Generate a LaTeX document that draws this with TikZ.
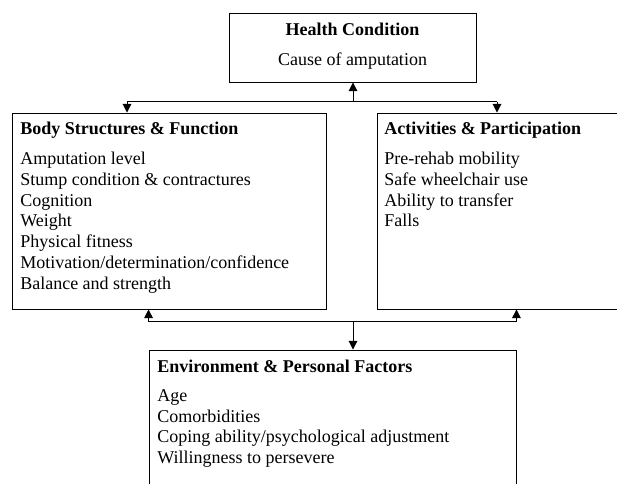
\documentclass[tikz,border=0pt]{standalone}
\usepackage{fontspec}
\setmainfont{Liberation Serif}
\usetikzlibrary{arrows.meta}
\usetikzlibrary{scopes}

\begin{document}
\begin{tikzpicture}[x=0.75pt,y=-0.75pt,font=\fontsize{13.5}{16}\selectfont]
\useasboundingbox (0,0) rectangle (617,484);
\clip (0,0) rectangle (617,484);

\begin{scope}[every node/.style={draw,line width=0.7pt,inner sep=0pt}]
    \node (health) [minimum width=185.25pt,minimum height=51.4pt] at (352.5,47.75) {};
    \node (body) [minimum width=235.5pt,minimum height=147pt] at (169,211) {};
    \node (activ) [minimum width=204.75pt,minimum height=147pt] at (513.5,211) {};
    \node (env) [minimum width=275.25pt,minimum height=127.5pt] at (332.5,435) {};
\end{scope}

\begin{scope}[every node/.style={inner sep=0pt,anchor=base west}]
    \node (hc) [anchor=base] at (352.5,36) {\textbf{Health Condition}};
    \node (hc1) [anchor=base] at (352.5,66) {Cause of amputation};

    \node (bs) at (20,135) {\textbf{Body Structures \& Function}};
    \node (bs1) at (20,164.6) {Amputation level};
    \node (bs2) at (20,185.4) {Stump condition \& contractures};
    \node (bs3) at (20,206.2) {Cognition};
    \node (bs4) at (20,227) {Weight};
    \node (bs5) at (20,247.8) {Physical fitness};
    \node (bs6) at (20,268.6) {Motivation/determination/confidence};
    \node (bs7) at (20,289.4) {Balance and strength};

    \node (ap) at (384,135) {\textbf{Activities \& Participation}};
    \node (ap1) at (384,164.6) {Pre-rehab mobility};
    \node (ap2) at (384,185.4) {Safe wheelchair use};
    \node (ap3) at (384,206.2) {Ability to transfer};
    \node (ap4) at (384,227) {Falls};

    \node (ep) at (157,372) {\textbf{Environment \& Personal Factors}};
    \node (ep1) at (157,401.2) {Age};
    \node (ep2) at (157,422) {Comorbidities};
    \node (ep3) at (157,442.8) {Coping ability/psychological adjustment};
    \node (ep4) at (157,463.6) {Willingness to persevere};
\end{scope}

\begin{scope}[>={Triangle[length=6.5pt,width=6.5pt]},line width=0.75pt]
    % top junction
    \coordinate (up) at (353,102);
    \coordinate (ld) at (127,102);
    \coordinate (rd) at (497,102);
    \draw (ld) -- (rd);
    \draw [->] (up) -- (up |- health.south);
    \draw [->] (ld) -- (ld |- body.north);
    \draw [->] (rd) -- (rd |- activ.north);
    % bottom junction
    \coordinate (dn) at (353,322);
    \coordinate (lu) at (env.west |- dn);
    \coordinate (ru) at (env.east |- dn);
    \draw (lu) -- (ru);
    \draw [->] (lu) -- (lu |- body.south);
    \draw [->] (ru) -- (ru |- activ.south);
    \draw [->] (dn) -- (dn |- env.north);
\end{scope}
\end{tikzpicture}
\end{document}
